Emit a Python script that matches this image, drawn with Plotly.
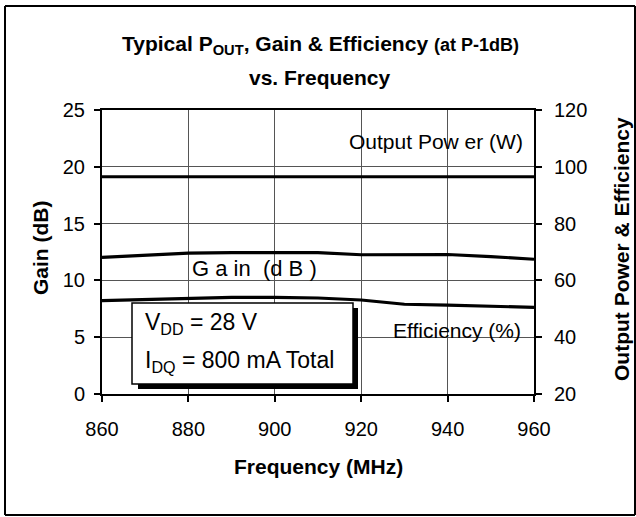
import plotly.graph_objects as go

freq = [860, 870, 880, 890, 900, 910, 920, 930, 940, 950, 960]
gain_db = [12.03, 12.25, 12.4, 12.44, 12.44, 12.44, 12.26, 12.26, 12.28, 12.1, 11.86]
pout_w = [96.5, 96.5, 96.5, 96.5, 96.5, 96.5, 96.5, 96.5, 96.5, 96.5, 96.5]
eff_pct = [52.9, 53.3, 53.6, 54.0, 54.0, 53.8, 53.1, 51.6, 51.3, 50.9, 50.5]

x_ticks = [860, 880, 900, 920, 940, 960]
y1_ticks = [0, 5, 10, 15, 20, 25]
y2_ticks = [20, 40, 60, 80, 100, 120]

FONT = "Liberation Sans, Arial, sans-serif"
W, H = 636, 517
L, R, T, B = 102, 102, 110, 123
PW, PH = W - L - R, H - T - B

def px(xp):
    return (xp - L) / PW

def py(yp):
    return (H - B - yp) / PH

fig = go.Figure()
line = dict(color="black", width=3.2)
fig.add_trace(go.Scatter(x=freq, y=pout_w, yaxis="y2", mode="lines", line=line, showlegend=False))
fig.add_trace(go.Scatter(x=freq, y=gain_db, yaxis="y", mode="lines", line=line, showlegend=False))
fig.add_trace(go.Scatter(x=freq, y=eff_pct, yaxis="y2", mode="lines", line=line, showlegend=False))

shapes = []
# white label backgrounds (between grid and traces)
for (x0, x1, y0, y1) in [(345, 533, 123, 166), (176, 345, 255, 282), (376, 533, 307, 350)]:
    shapes.append(dict(type="rect", xref="paper", yref="paper", x0=px(x0), x1=px(x1),
                       y0=py(y1), y1=py(y0), fillcolor="white", line=dict(width=0), layer="between"))
# condition box with shadow
shapes.append(dict(type="rect", xref="paper", yref="paper", x0=px(138), x1=px(358),
                   y0=py(389), y1=py(308), fillcolor="black", line=dict(width=0), layer="above"))
shapes.append(dict(type="rect", xref="paper", yref="paper", x0=px(132), x1=px(353),
                   y0=py(384), y1=py(303), fillcolor="white", line=dict(color="black", width=1.5), layer="above"))
# outer border
border = dict(color="black", width=2)
for (x0, y0, x1, y1) in [(5, 6, 635, 6), (5, 515, 635, 515), (5, 6, 5, 515), (635, 6, 635, 515)]:
    shapes.append(dict(type="line", xref="paper", yref="paper", x0=px(x0), x1=px(x1),
                       y0=py(y0), y1=py(y1), line=border, layer="above"))

ann = []
def t(text, x, y, size, xanchor="center", angle=0, bold=False):
    ann.append(dict(text=f"<b>{text}</b>" if bold else text, xref="paper", yref="paper",
                    x=px(x), y=py(y), xanchor=xanchor, yanchor="middle", showarrow=False,
                    textangle=angle, font=dict(family=FONT, size=size, color="black")))

t("Typical P<sub>OUT</sub>, Gain &amp; Efficiency <span style='font-size:18px'>(at P-1dB)</span>", 320, 45, 21, bold=True)
t("vs. Frequency", 320, 78, 21, bold=True)
t("Gain (dB)", 40, 248, 21, angle=-90, bold=True)
t("Output Power &amp; Efficiency", 621, 249, 21, angle=-90, bold=True)
t("Frequency (MHz)", 318, 466, 21, bold=True)
t("Output Pow er (W)", 525, 141, 21, xanchor="right")
t("G a in  (d B )", 190, 268, 22, xanchor="left")
t("Efficiency (%)", 523, 330, 21, xanchor="right")
t("V<sub>DD</sub> = 28 V", 143, 323, 23, xanchor="left")
t("I<sub>DQ</sub> = 800 mA Total", 143, 361, 23, xanchor="left")

axis_common = dict(showline=True, linecolor="black", linewidth=2, ticks="outside", ticklen=6,
                   tickwidth=1.5, tickcolor="black", zeroline=False,
                   tickfont=dict(family=FONT, size=20, color="black"))

fig.update_layout(
    width=W, height=H, margin=dict(l=L, r=R, t=T, b=B, pad=0),
    paper_bgcolor="white", plot_bgcolor="white", showlegend=False,
    shapes=shapes, annotations=ann,
    xaxis=dict(range=[860, 960], tickvals=x_ticks, showgrid=True, gridcolor="#555555", gridwidth=1,
               mirror=True, ticklabelstandoff=10, **axis_common),
    yaxis=dict(range=[0, 25], tickvals=y1_ticks, showgrid=True, gridcolor="#555555", gridwidth=1,
               ticklabelstandoff=5, **axis_common),
    yaxis2=dict(range=[20, 120], tickvals=y2_ticks, overlaying="y", side="right", showgrid=False,
                ticklabelstandoff=8, **axis_common),
)

fig.write_html("out.html", config={"displayModeBar": False},
               post_script="document.body.style.margin='0';document.documentElement.style.overflow='hidden';")
